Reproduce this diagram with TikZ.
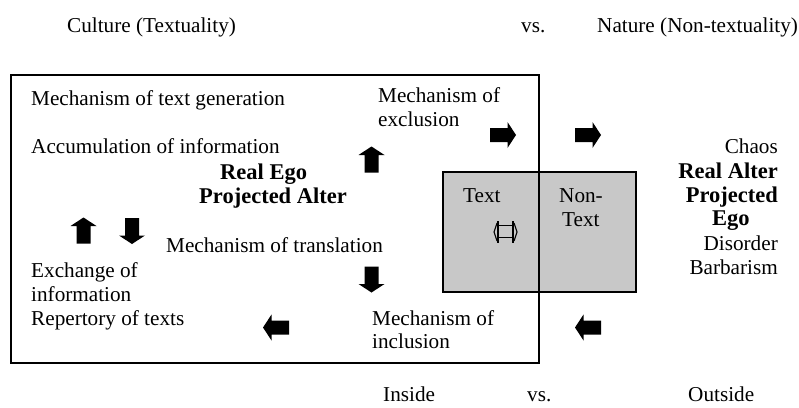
\documentclass[tikz,border=0pt]{standalone}
\usepackage{fontspec}
\setmainfont{Liberation Serif}
\definecolor{boxgray}{RGB}{200,200,200}
\begin{document}
\begin{tikzpicture}[x=1pt,y=-1pt,
  txt/.style={anchor=base west,inner sep=0pt,font=\fontsize{21.2}{24}\selectfont},
  txtr/.style={anchor=base east,inner sep=0pt,font=\fontsize{21.2}{24}\selectfont},
  bld/.style={anchor=base west,inner sep=0pt,font=\fontsize{22.5}{24}\selectfont\bfseries},
  blockarrow/.pic={\fill[black] (-13,-7) -- (4.5,-7) -- (4.5,-13) -- (13,0) -- (4.5,13) -- (4.5,7) -- (-13,7) -- cycle;}]
\useasboundingbox (0,0) rectangle (799,407);
% boxes
\fill[boxgray] (443,172) rectangle (636,292);
\draw[line width=1.4pt] (11,75) rectangle (539,363);
\draw[line width=1.2pt] (443,172) rectangle (636,292);
% header
\node[txt] (culture) at (67,32) {Culture (Textuality)};
\node[txt] (vs1) at (521,32) {vs.};
\node[txt] (nature) at (597,32) {Nature (Non-textuality)};
% left box texts
\node[txt] (gen) at (31,105) {Mechanism of text generation};
\node[txt] (acc) at (31,153) {Accumulation of information};
\node[bld] (rego) at (220,179) {Real Ego};
\node[bld] (palter) at (199,203) {Projected Alter};
\node[txt] (excl1) at (378,102) {Mechanism of};
\node[txt] (excl2) at (378,126) {exclusion};
\node[txt] (trans) at (166,252) {Mechanism of translation};
\node[txt] (exch1) at (31,277) {Exchange of};
\node[txt] (exch2) at (31,301) {information};
\node[txt] (rep) at (31,325) {Repertory of texts};
\node[txt] (incl1) at (372,325) {Mechanism of};
\node[txt] (incl2) at (372,348) {inclusion};
% gray box texts
\node[txt] (tx) at (463,202) {Text};
\node[txt] (non1) at (559,202) {Non-};
\node[txt] (non2) at (562,226) {Text};
% right texts
\node[txtr] (chaos) at (778,153) {Chaos};
\node[bld,anchor=base east] (ralter) at (778,178) {Real Alter};
\node[bld,anchor=base east] (proj) at (778,202) {Projected};
\node[bld] (ego) at (712,225) {Ego};
\node[txtr] (dis) at (778,250) {Disorder};
\node[txtr] (barb) at (778,274) {Barbarism};
% footer
\node[txt] (inside) at (383,401) {Inside};
\node[txt] (vs2) at (527,401) {vs.};
\node[txt] (outside) at (688,401) {Outside};
% block arrows
\pic at (503,135) {blockarrow};
\pic at (588,135) {blockarrow};
\pic[rotate=90] at (371.5,159.5) {blockarrow};
\pic[rotate=90] at (83.5,230.5) {blockarrow};
\pic[rotate=-90] at (132,231) {blockarrow};
\pic[rotate=-90] at (371.5,279.5) {blockarrow};
\pic[rotate=180] at (276,327.5) {blockarrow};
\pic[rotate=180] at (588,327.5) {blockarrow};
% double arrow symbol
\draw[line width=1.1pt] (498,221) -- (498,243) (513,221) -- (513,243);
\draw[line width=0.9pt] (498,225) -- (513,225) (498,237) -- (513,237);
\draw[line width=1.1pt] (497,223) -- (494,232) -- (497,241);
\draw[line width=1.1pt] (514,223) -- (517,232) -- (514,241);
\end{tikzpicture}
\end{document}
